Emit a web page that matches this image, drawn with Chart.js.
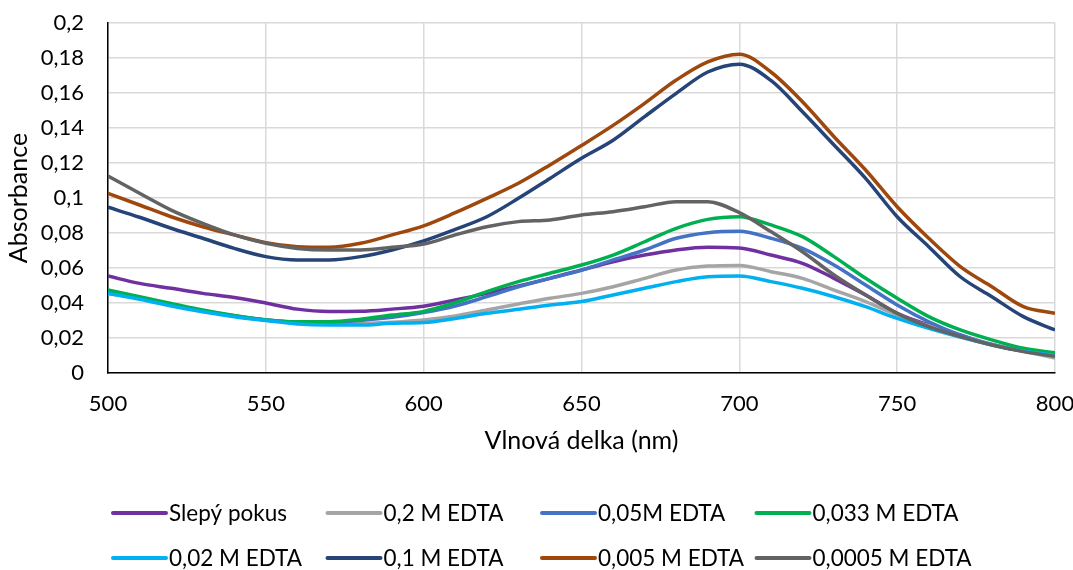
<!DOCTYPE html>
<html>
<head>
<meta charset="utf-8">
<script src="https://cdn.jsdelivr.net/npm/chart.js@4.4.1/dist/chart.umd.min.js"></script>
<style>
html,body{margin:0;padding:0;background:#fff;}
#wrap{width:1073px;height:570px;position:relative;}
</style>
</head>
<body>
<div id="wrap"><canvas id="c" width="1073" height="570"></canvas></div>
<script>
const wavelengths = [500,510,520,530,540,550,560,570,580,590,600,610,620,630,640,650,660,670,680,690,700,710,720,730,740,750,760,770,780,790,800];

const seriesLabels = ["Slepý pokus","0,2 M EDTA","0,05M EDTA","0,033 M EDTA","0,02 M EDTA","0,1 M EDTA","0,005 M EDTA","0,0005 M EDTA"];
const seriesColors = ["#7030A0","#A5A5A5","#4472C4","#00B050","#00B0F0","#264478","#9E480E","#636363"];

const slepyPokus = [0.0554,0.0512,0.0484,0.0455,0.0432,0.0400,0.0365,0.0352,0.0353,0.0365,0.0382,0.0417,0.0455,0.0497,0.0541,0.0589,0.0636,0.0674,0.0703,0.0718,0.0714,0.0674,0.0627,0.0541,0.0446,0.0341,0.0274,0.0217,0.0163,0.0125,0.0101];
const edta0_2 = [0.0455,0.0425,0.0388,0.0355,0.0327,0.0305,0.0288,0.0280,0.0282,0.0290,0.0303,0.0326,0.0360,0.0394,0.0427,0.0455,0.0493,0.0541,0.0589,0.0611,0.0615,0.0579,0.0541,0.0474,0.0408,0.0331,0.0270,0.0215,0.0165,0.0125,0.0085];
const edta0_05 = [0.0460,0.0428,0.0390,0.0356,0.0326,0.0303,0.0290,0.0288,0.0300,0.0318,0.0345,0.0383,0.0436,0.0493,0.0541,0.0587,0.0646,0.0703,0.0770,0.0802,0.0810,0.0770,0.0712,0.0617,0.0503,0.0389,0.0293,0.0217,0.0162,0.0125,0.0105];
const edta0_033 = [0.0474,0.0436,0.0398,0.0360,0.0328,0.0303,0.0293,0.0293,0.0307,0.0331,0.0352,0.0402,0.0465,0.0522,0.0570,0.0617,0.0674,0.0750,0.0827,0.0878,0.0893,0.0846,0.0779,0.0665,0.0541,0.0427,0.0322,0.0246,0.0189,0.0141,0.0115];
const edta0_02 = [0.0455,0.0421,0.0383,0.0350,0.0322,0.0300,0.0280,0.0274,0.0274,0.0284,0.0288,0.0312,0.0341,0.0364,0.0389,0.0408,0.0446,0.0484,0.0522,0.0550,0.0554,0.0522,0.0484,0.0436,0.0379,0.0312,0.0255,0.0205,0.0160,0.0125,0.0100];
const edta0_1 = [0.0947,0.0890,0.0827,0.0770,0.0712,0.0665,0.0646,0.0646,0.0665,0.0703,0.0755,0.0821,0.0893,0.0998,0.1112,0.1227,0.1330,0.1465,0.1598,0.1720,0.1765,0.1672,0.1493,0.1303,0.1112,0.0893,0.0722,0.0550,0.0436,0.0322,0.0246];
const edta0_005 = [0.1027,0.0960,0.0893,0.0836,0.0789,0.0745,0.0722,0.0718,0.0741,0.0789,0.0841,0.0916,0.0998,0.1084,0.1189,0.1300,0.1415,0.1541,0.1674,0.1778,0.1822,0.1720,0.1550,0.1350,0.1160,0.0950,0.0770,0.0608,0.0493,0.0379,0.0341];
const edta0_0005 = [0.1126,0.1027,0.0931,0.0855,0.0789,0.0741,0.0712,0.0703,0.0703,0.0718,0.0737,0.0789,0.0836,0.0865,0.0874,0.0903,0.0922,0.0950,0.0979,0.0979,0.0916,0.0808,0.0693,0.0560,0.0446,0.0341,0.0265,0.0208,0.0160,0.0122,0.0095];

const seriesValues = [slepyPokus, edta0_2, edta0_05, edta0_033, edta0_02, edta0_1, edta0_005, edta0_0005];

const yTickLabels = ["0","0,02","0,04","0,06","0,08","0,1","0,12","0,14","0,16","0,18","0,2"];
const xTickLabels = ["500","550","600","650","700","750","800"];

const FONT = "Lato, 'Open Sans', sans-serif";

const datasets = seriesValues.map((vals, i) => ({
  label: seriesLabels[i],
  data: wavelengths.map((w, j) => ({x: w, y: vals[j]})),
  borderColor: seriesColors[i],
  backgroundColor: seriesColors[i],
  borderWidth: 3.5,
  pointRadius: 0,
  cubicInterpolationMode: 'monotone',
  fill: false,
  order: seriesValues.length - i
}));

const gridLegend = {
  id: 'gridLegend',
  afterDraw(chart) {
    const ctx = chart.ctx;
    const ds = chart.data.datasets;
    const colX0 = 113, colStep = 214.5, rowY = [513, 558];
    ctx.save();
    ctx.font = "22.5px " + FONT;
    ctx.textBaseline = 'middle';
    ctx.textAlign = 'left';
    ds.forEach((d, i) => {
      const col = i % 4, row = Math.floor(i / 4);
      const x = colX0 + col * colStep, y = rowY[row];
      ctx.strokeStyle = d.borderColor;
      ctx.lineWidth = 4;
      ctx.lineCap = 'round';
      ctx.beginPath();
      ctx.moveTo(x, y);
      ctx.lineTo(x + 53, y);
      ctx.stroke();
      ctx.fillStyle = '#000';
      ctx.fillText(d.label, x + 56, y + 1);
    });
    ctx.restore();
  }
};

function zeroPad(s) { s.paddingLeft = 0; s.paddingRight = 0; s.paddingTop = 0; s.paddingBottom = 0; }

new Chart(document.getElementById('c'), {
  type: 'line',
  data: { datasets },
  plugins: [gridLegend],
  options: {
    responsive: false,
    animation: false,
    devicePixelRatio: 1,
    layout: { padding: { top: 23, right: 18, bottom: 114, left: 0 } },
    plugins: { legend: { display: false }, tooltip: { enabled: false } },
    scales: {
      x: {
        type: 'linear', min: 500, max: 800,
        afterFit(s) { s.height = 83; zeroPad(s); },
        ticks: {
          stepSize: 50, padding: 18, color: '#000', font: { family: FONT, size: 22 },
          callback: (v) => { const i = xTickLabels.indexOf(String(v)); return i >= 0 ? xTickLabels[i] : ''; }
        },
        grid: { color: '#D9D9D9', lineWidth: 1.5, drawTicks: false },
        border: { color: '#000', width: 1.5 },
        title: { display: true, text: 'Vlnová delka (nm)', color: '#000', font: { family: FONT, size: 25 }, padding: { top: 0, bottom: 0 } }
      },
      y: {
        min: 0, max: 0.2,
        afterFit(s) { s.width = 108; zeroPad(s); },
        ticks: {
          stepSize: 0.02, padding: 24, color: '#000', font: { family: FONT, size: 22 },
          callback: (v) => { const i = Math.round(v / 0.02); return yTickLabels[i]; }
        },
        grid: { color: '#D9D9D9', lineWidth: 1.5, drawTicks: false },
        border: { color: '#000', width: 1.5 },
        title: { display: true, text: 'Absorbance', color: '#000', font: { family: FONT, size: 25 }, padding: { top: 4, bottom: 0 } }
      }
    }
  }
});
</script>
</body>
</html>
